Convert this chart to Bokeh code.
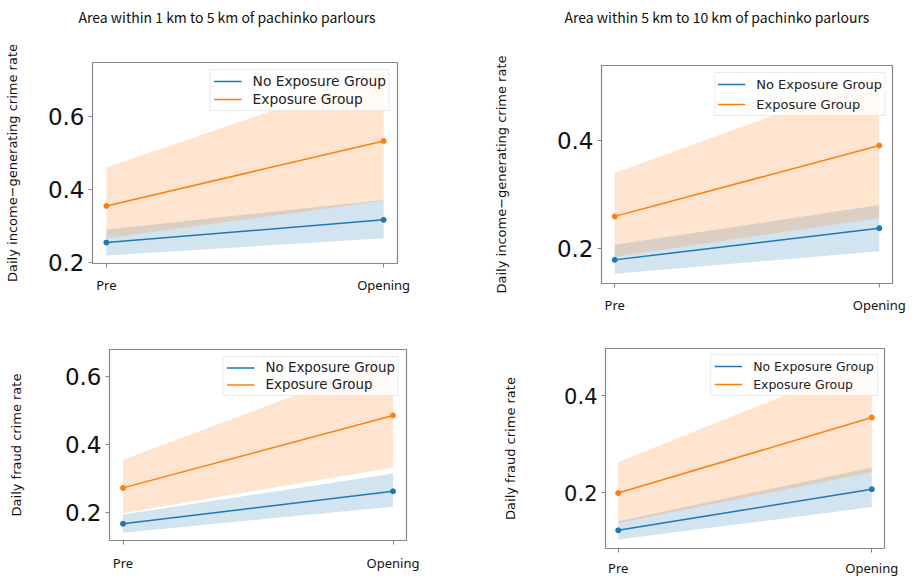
from bokeh.plotting import figure
from bokeh.models import FixedTicker, Range1d, Title, GlobalInlineStyleSheet
from bokeh.embed import file_html
from bokeh.resources import INLINE

periods = ["Pre", "Opening"]
groups = ["No Exposure Group", "Exposure Group"]

titles = ["Area within 1 km to 5 km of pachinko parlours",
          "Area within 5 km to 10 km of pachinko parlours"]
ylabels = ["Daily income\u2212generating crime rate", "Daily fraud crime rate"]

# Panel A: income-generating crime, 1-5 km
inc15_no_mean = [0.255, 0.317]
inc15_no_low = [0.220, 0.267]
inc15_no_high = [0.291, 0.371]
inc15_exp_mean = [0.355, 0.532]
inc15_exp_low = [0.267, 0.369]
inc15_exp_high = [0.460, 0.719]

# Panel B: income-generating crime, 5-10 km
inc510_no_mean = [0.178, 0.237]
inc510_no_low = [0.152, 0.194]
inc510_no_high = [0.206, 0.280]
inc510_exp_mean = [0.259, 0.391]
inc510_exp_low = [0.184, 0.256]
inc510_exp_high = [0.340, 0.519]

# Panel C: fraud crime, 1-5 km
fr15_no_mean = [0.168, 0.263]
fr15_no_low = [0.142, 0.218]
fr15_no_high = [0.195, 0.315]
fr15_exp_mean = [0.273, 0.485]
fr15_exp_low = [0.199, 0.333]
fr15_exp_high = [0.355, 0.652]

# Panel D: fraud crime, 5-10 km
fr510_no_mean = [0.122, 0.207]
fr510_no_low = [0.103, 0.170]
fr510_no_high = [0.141, 0.252]
fr510_exp_mean = [0.199, 0.355]
fr510_exp_low = [0.137, 0.242]
fr510_exp_high = [0.263, 0.473]

BLUE = "#1f77b4"
ORANGE = "#ff7f0e"
xs = list(range(len(periods)))


def panel(no, exp, ylabel, yticks, yr, left, top, fw, fh, bl, br, bt, bb,
          ylab_standoff, xlab_standoff, legend_fs, tick_fs, row_h, pad, lmargin,
          title=None, title_offset=0, title_gap=0):
    p = figure(frame_width=fw, frame_height=fh, min_border_left=bl, min_border_right=br,
               min_border_top=bt, min_border_bottom=bb, output_backend="svg",
               toolbar_location=None, x_range=Range1d(-0.05, 1.05), y_range=Range1d(*yr),
               background_fill_color="white", border_fill_color="white")
    p.styles = {"position": "absolute", "left": f"{left}px", "top": f"{top}px"}
    p.title.visible = False
    if title:
        # spacer (closest to the frame), then the real title stacked above it
        p.add_layout(Title(text=" ", text_font_size="1px", standoff=title_gap), "above")
        p.add_layout(Title(text=title, align="left", offset=title_offset, standoff=0,
                           text_font="Noto Sans CJK JP", text_font_size="14px",
                           text_font_style="normal", text_color="#111111"), "above")
    p.grid.visible = False
    p.outline_line_color = "#888888"
    p.outline_line_width = 1.2
    for (mean, low, high), color in zip([no, exp], [BLUE, ORANGE]):
        p.varea(x=xs, y1=low, y2=high, fill_color=color, fill_alpha=0.2)
    for (mean, low, high), color, name in zip([no, exp], [BLUE, ORANGE], groups):
        p.line(xs, mean, line_color=color, line_width=1.5, legend_label=name)
        p.scatter(xs, mean, size=5, fill_color=color, line_color=color)
    # axes
    p.xaxis.ticker = FixedTicker(ticks=xs)
    p.xaxis.major_label_overrides = {i: periods[i] for i in xs}
    p.xaxis.major_label_text_font = "Noto Sans"
    p.xaxis.major_label_text_font_size = "13px"
    p.xaxis.major_label_text_color = "#111111"
    p.xaxis.major_label_standoff = xlab_standoff
    p.yaxis.ticker = FixedTicker(ticks=yticks)
    p.yaxis.major_label_text_font = "DejaVu Sans"
    p.yaxis.major_label_text_font_size = tick_fs
    p.yaxis.major_label_text_color = "#111111"
    p.yaxis.major_label_standoff = 4
    p.yaxis.axis_label = ylabel
    p.yaxis.axis_label_text_font = "DejaVu Sans"
    p.yaxis.axis_label_text_font_size = "13px"
    p.yaxis.axis_label_text_font_style = "normal"
    p.yaxis.axis_label_text_color = "#111111"
    p.yaxis.axis_label_standoff = ylab_standoff
    for ax in (p.xaxis, p.yaxis):
        ax.axis_line_color = None
        ax.minor_tick_line_color = None
        ax.major_tick_in = 0
        ax.major_tick_out = 4
        ax.major_tick_line_color = "#888888"
    lg = p.legend[0]
    lg.location = "top_right"
    lg.margin = lmargin
    lg.padding = pad
    lg.spacing = 2
    lg.glyph_width = 28
    lg.glyph_height = row_h
    lg.label_height = row_h
    lg.label_standoff = 11
    lg.label_text_font = "DejaVu Sans"
    lg.label_text_font_size = legend_fs
    lg.label_text_color = "#222222"
    lg.border_line_color = "#d8d8d8"
    lg.background_fill_alpha = 0.8
    return p


f1 = panel((inc15_no_mean, inc15_no_low, inc15_no_high),
           (inc15_exp_mean, inc15_exp_low, inc15_exp_high),
           ylabels[0], [0.2, 0.4, 0.6], (0.198, 0.746),
           0, 0, 305, 201, 92, 63, 62, 50, 25, 8, "13.8px", "23px", 16, 3, 7,
           title=titles[0], title_offset=-14, title_gap=33)
f2 = panel((inc510_no_mean, inc510_no_low, inc510_no_high),
           (inc510_exp_mean, inc510_exp_low, inc510_exp_high),
           ylabels[0], [0.2, 0.4], (0.134, 0.540),
           460, 0, 291, 218, 141, 25, 65, 30, 45, 8, "13px", "23px", 18, 2, 7,
           title=titles[1], title_offset=-37, title_gap=36)
f3 = panel((fr15_no_mean, fr15_no_low, fr15_no_high),
           (fr15_exp_mean, fr15_exp_low, fr15_exp_high),
           ylabels[1], [0.2, 0.4, 0.6], (0.119, 0.678),
           0, 318, 297, 191, 109, 54, 31, 36, 38, 9, "13.4px", "23px", 15, 3, 7)
f4 = panel((fr510_no_mean, fr510_no_low, fr510_no_high),
           (fr510_exp_mean, fr510_exp_low, fr510_exp_high),
           ylabels[1], [0.2, 0.4], (0.0845, 0.4975),
           460, 318, 279, 200, 145, 33, 30, 30, 43, 6, "12.5px", "21px", 16, 3, 6)

f1.stylesheets = [GlobalInlineStyleSheet(css="html, body { overflow: hidden; }")]

p = [f1, f2, f3, f4]
open("out.html", "w").write(file_html(p, INLINE))
